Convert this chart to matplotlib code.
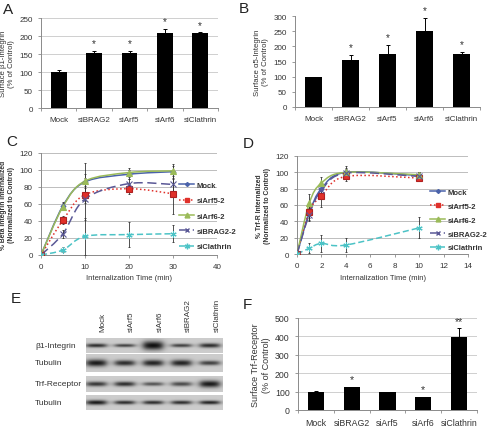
import numpy as np
import matplotlib
matplotlib.use("Agg")
import matplotlib.pyplot as plt
from matplotlib.path import Path
from matplotlib.patches import PathPatch
from matplotlib.lines import Line2D

plt.rcParams["font.family"] = ["Liberation Sans", "DejaVu Sans"]

# ---- data ----
bar_cats = ["Mock", "siBRAG2", "siArf5", "siArf6", "siClathrin"]

# A: surface beta1-integrin
a_vals = [100, 153, 154, 208, 208]
a_errs = [6, 6, 4, 12, 2]
a_stars = ["", "*", "*", "*", "*"]

# B: surface alpha5-integrin
b_vals = [100, 155, 174, 252, 174]
b_errs = [0, 17, 30, 42, 8]
b_stars = ["", "*", "*", "*", "*"]

# F: surface Trf-receptor
f_vals = [100, 123, 96, 70, 398]
f_errs = [5, 3, 4, 3, 45]
f_stars = ["", "*", "", "*", "**"]

series_names = ["Mock", "siArf5-2", "siArf6-2", "siBRAG2-2", "siClathrin"]

# C: beta integrin internalization
c_time = [0, 5, 10, 20, 30]
c_vals = [
    [0, 58, 86, 95, 98],
    [0, 41, 71, 78, 72],
    [0, 57, 87, 97, 99],
    [0, 25, 66, 84, 83],
    [0, 6, 22, 24, 25],
]
c_errs = [
    [0, 4, 22, 5, 9],
    [0, 5, 10, 6, 24],
    [0, 4, 8, 5, 6],
    [0, 5, 25, 6, 8],
    [0, 3, 22, 15, 10],
]

# D: Trf-R internalization
d_time = [0, 1, 2, 4, 10]
d_vals = [
    [0, 50, 80, 100, 96],
    [0, 52, 71, 95, 93],
    [0, 62, 87, 100, 97],
    [0, 48, 78, 99, 95],
    [0, 7, 13, 11, 32],
]
d_errs = [
    [0, 6, 6, 8, 4],
    [0, 12, 13, 6, 4],
    [0, 11, 7, 5, 3],
    [0, 6, 6, 5, 4],
    [0, 6, 10, 9, 13],
]

# E: western blot
blot_lanes = ["Mock", "siArf5", "siArf6", "siBRAG2", "siClathrin"]
blot_rows = ["β1-Integrin", "Tubulin", "Trf-Receptor", "Tubulin"]
band_strength = [
    [0.85, 0.75, 1.00, 0.75, 0.85],
    [0.95, 0.85, 0.90, 0.90, 0.75],
    [0.80, 0.85, 0.65, 0.70, 0.95],
    [0.95, 0.85, 0.85, 0.85, 0.90],
]
band_thick = [
    [0.13, 0.11, 0.30, 0.12, 0.15],
    [0.20, 0.16, 0.18, 0.18, 0.13],
    [0.15, 0.15, 0.12, 0.14, 0.22],
    [0.16, 0.13, 0.13, 0.13, 0.13],
]

# ---- style ----
colors = ["#4a62aa", "#e0302a", "#9bbb59", "#5a5896", "#4cc3c6"]
linestyles = ["-", (0, (1, 1.6)), "-", (0, (6, 3)), (0, (4, 2))]
markers = ["D", "s", "^", "x", (6, 2, 0)]
msizes = [2.5, 4, 4, 4, 4.5]
TXT = "#333333"
SPINE = "#8a8a8a"

W, H = 492, 427
fig = plt.figure(figsize=(W / 100, H / 100), dpi=100)


def rect(x0, y0, x1, y1):
    # pixel box -> figure fraction
    return [x0 / W, 1 - y1 / H, (x1 - x0) / W, (y1 - y0) / H]


def bar_panel(box, vals, errs, stars, yticks, ylabel, grid, fs, lfs):
    ax = fig.add_axes(rect(*box))
    x = np.arange(len(bar_cats))
    ax.bar(x, vals, width=0.45, color="black", zorder=3)
    ax.errorbar(x, vals, yerr=[np.zeros(len(errs)), errs], fmt="none",
                ecolor="black", elinewidth=0.7, capsize=1.5, capthick=0.7, zorder=4)
    for xi, v, e, s in zip(x, vals, errs, stars):
        if s:
            ax.annotate(s, (xi, v + e), xytext=(0, 2), textcoords="offset points",
                        ha="center", va="bottom", fontsize=fs + 1.5, color=TXT)
    ax.set_xlim(-0.5, len(bar_cats) - 0.5)
    ax.set_ylim(yticks[0], yticks[-1])
    ax.set_yticks(yticks)
    ax.set_xticks(x, bar_cats)
    ax.set_xticks(np.arange(-0.5, len(bar_cats)), minor=True)
    ax.tick_params(axis="x", which="major", length=0, pad=6, labelsize=fs, colors=TXT)
    ax.tick_params(axis="x", which="minor", length=2.5, color=SPINE)
    ax.tick_params(axis="y", length=2.5, width=0.6, color=SPINE, labelsize=fs, colors=TXT)
    for s in ["top", "right"]:
        ax.spines[s].set_visible(False)
    for s in ["left", "bottom"]:
        ax.spines[s].set_color(SPINE)
        ax.spines[s].set_linewidth(0.7)
    if grid:
        ax.yaxis.grid(True, color="#c8c8c8", lw=0.6, zorder=0)
    ax.set_ylabel(ylabel, fontsize=lfs, color=TXT, labelpad=3)
    return ax


def smooth_path(x, y):
    pts = np.column_stack([x, y]).astype(float)
    verts = [pts[0]]
    codes = [Path.MOVETO]
    n = len(pts)
    for i in range(n - 1):
        p0 = pts[max(i - 1, 0)]
        p1 = pts[i]
        p2 = pts[i + 1]
        p3 = pts[min(i + 2, n - 1)]
        verts += [p1 + (p2 - p0) / 6, p2 - (p3 - p1) / 6, p2]
        codes += [Path.CURVE4] * 3
    return Path(verts, codes)


def line_panel(box, t, vals, errs, xticks, ylabel, legend_xy, lspace):
    ax = fig.add_axes(rect(*box))
    for i, name in enumerate(series_names):
        ax.add_patch(PathPatch(smooth_path(t, vals[i]), fill=False, edgecolor=colors[i],
                               lw=1.1, linestyle=linestyles[i], zorder=3))
        ax.errorbar(t, vals[i], yerr=errs[i], fmt="none", ecolor="#333333",
                    elinewidth=0.6, capsize=1, capthick=0.6, zorder=4)
        ax.plot(t, vals[i], linestyle="none", marker=markers[i], ms=msizes[i],
                mfc=colors[i], mec="#b02020" if i == 1 else colors[i], mew=0.8, zorder=5)
    ax.set_xlim(xticks[0], xticks[-1])
    ax.set_ylim(0, 120)
    ax.set_xticks(xticks)
    ax.set_yticks(np.arange(0, 121, 20))
    ax.yaxis.grid(True, color="#bdbdbd", lw=0.7, zorder=0)
    for s in ["top", "right"]:
        ax.spines[s].set_visible(False)
    for s in ["left", "bottom"]:
        ax.spines[s].set_color(SPINE)
        ax.spines[s].set_linewidth(0.7)
    ax.tick_params(length=2.5, width=0.6, color=SPINE, labelsize=5.8, colors=TXT)
    ax.set_xlabel("Internalization Time (min)", fontsize=5.5, color=TXT, labelpad=3)
    ax.set_ylabel(ylabel, fontsize=4.9, color=TXT, fontweight="bold", labelpad=3)
    handles = [Line2D([], [], color=colors[i], ls=linestyles[i], lw=1.1, marker=markers[i],
                      ms=msizes[i] - 0.5, mfc=colors[i], mec=colors[i])
               for i in range(len(series_names))]
    leg = fig.legend(handles, series_names, loc="center left",
                     bbox_to_anchor=(legend_xy[0] / W, 1 - legend_xy[1] / H),
                     frameon=False, fontsize=5.5, handlelength=2.0, handletextpad=0.3,
                     labelspacing=lspace, borderpad=0, borderaxespad=0)
    for txt in leg.get_texts():
        txt.set_fontweight("bold")
        txt.set_color(TXT)
    return ax


# A
bar_panel((41, 19, 218, 109), a_vals, a_errs, a_stars, np.arange(0, 251, 50),
          "Surface β1-Integrin\n(% of Control)", True, 5.8, 5.6)
# B
bar_panel((295, 17, 480, 108), b_vals, b_errs, b_stars, np.arange(0, 301, 50),
          "Surface α5-Integrin\n(% of Control)", False, 5.8, 5.6)
# C
line_panel((41, 154, 217, 256), c_time, c_vals, c_errs, np.arange(0, 41, 10),
           "% Beta Integrin Internalized\n(Normalized to Control)", (179, 217), 1.05)
# D
line_panel((297, 157, 468, 255), d_time, d_vals, d_errs, np.arange(0, 15, 2),
           "% Trf-R Internalized\n(Normalized to Control)", (430, 221), 0.85)
# F
bar_panel((298, 319, 477, 411), f_vals, f_errs, f_stars, np.arange(0, 501, 100),
          "Surface Trf-Receptor\n(% of Control)", True, 6.3, 6.5)

# E: blot strips
strip_boxes = [(86, 339, 223, 354), (86, 355, 223, 373), (86, 377, 223, 393), (86, 396, 223, 411)]
lane_pos = np.linspace(0.075, 0.905, len(blot_lanes))
xx, yy = np.meshgrid(np.linspace(0, 1, 274), np.linspace(0, 1, 40))
for r, box in enumerate(strip_boxes):
    ax = fig.add_axes(rect(*box))
    img = np.full(xx.shape, 0.80)
    for k, xc in enumerate(lane_pos):
        prof_x = 1 / (1 + np.exp((np.abs(xx - xc) - 0.07) / 0.015))
        prof_y = np.exp(-((yy - 0.5) / band_thick[r][k]) ** 2)
        img -= 0.75 * band_strength[r][k] * prof_x * prof_y
    ax.imshow(np.clip(img, 0, 1), cmap="gray", vmin=0, vmax=1, aspect="auto",
              interpolation="bilinear")
    ax.set_axis_off()
    fig.text(35 / W, 1 - (box[1] + box[3]) / 2 / H, blot_rows[r], fontsize=6,
             color=TXT, ha="left", va="center")
    if r == 0:
        for k, name in enumerate(blot_lanes):
            ax.annotate(name, (lane_pos[k], 1), xycoords="axes fraction",
                        xytext=(5, 5), textcoords="offset points", rotation=90,
                        ha="center", va="bottom", fontsize=5.8, color=TXT)

# panel letters
for letter, px, py in [("A", 8, 10), ("B", 244, 9), ("C", 12, 142), ("D", 248, 144),
                       ("E", 16, 299), ("F", 247, 305)]:
    fig.text(px / W, 1 - py / H, letter, fontsize=11, color="#222222",
             ha="center", va="center")

fig.savefig("out.png", dpi=100)
